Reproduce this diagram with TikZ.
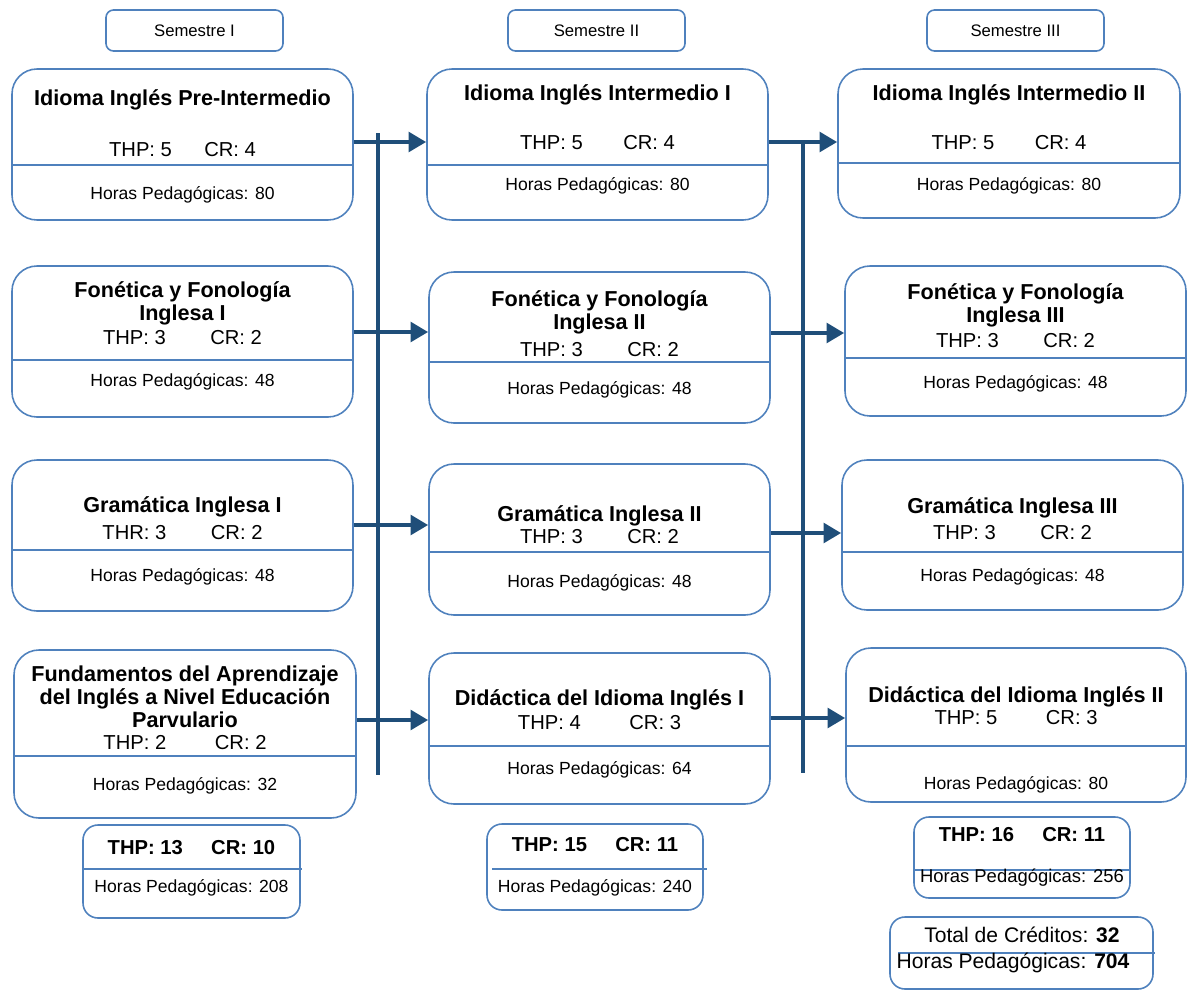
\documentclass[tikz,border=0pt]{standalone}
\usepackage{fontspec}
\setmainfont{Liberation Sans}
\usetikzlibrary{arrows.meta, fit}

\definecolor{boxblue}{RGB}{79,129,189}
\definecolor{flowblue}{RGB}{31,78,121}

\tikzset{
  course/.style={draw=boxblue, line width=0.9pt, rounded corners=0.5cm, inner sep=0pt},
  header/.style={draw=boxblue, line width=0.9pt, rounded corners=0.15cm, inner sep=0pt},
  headtext/.style={font=\fontsize{9.5}{11}\selectfont, inner sep=0pt},
  summary/.style={draw=boxblue, line width=0.9pt, rounded corners=0.3cm, inner sep=0pt},
  divider/.style={draw=boxblue, line width=0.8pt},
  title/.style={font=\fontsize{12.3}{13}\selectfont\bfseries, align=center, inner sep=0pt},
  sumtitle/.style={font=\fontsize{11.5}{13}\selectfont\bfseries, inner sep=0pt},
  credits/.style={font=\fontsize{11.5}{13}\selectfont, inner sep=0pt},
  hours/.style={font=\fontsize{10}{12}\selectfont, inner sep=0pt},
  flow/.style={draw=flowblue, line width=2.8pt, -{Triangle[length=10pt,width=11pt]}},
  bus/.style={draw=flowblue, line width=2.8pt},
}

\begin{document}
\begin{tikzpicture}[x=0.02cm, y=-0.02cm]
\useasboundingbox (0,0) rectangle (1188,991);

% semester headers
\node[header, fit={(106,10) (283,51)}] (sem1) {};
\node[headtext] (sem1t) at (194.5,30.5) {Semestre I};
\node[header, fit={(508,10) (685,51)}] (sem2) {};
\node[headtext] (sem2t) at (596.5,30.5) {Semestre II};
\node[header, fit={(927,10) (1104,51)}] (sem3) {};
\node[headtext] (sem3t) at (1015.5,30.5) {Semestre III};

% Idioma Ingles
\node[course, fit={(12,69) (353,220)}] (idi1) {};
\node[title] (idi1t) at (182.5,100) {Idioma Inglés Pre-Intermedio};
\node[credits] (idi1c) at (182.5,150) {THP: 5\hspace{1.6em}CR: 4};
\draw[divider] (idi1.west |- 0,165) -- (idi1.east |- 0,165);
\node[hours] (idi1h) at (182.5,195) {Horas Pedagógicas: 80};

\node[course, fit={(427,69) (768,220)}] (idi2) {};
\node[title] (idi2t) at (597.5,95) {Idioma Inglés Intermedio I};
\node[credits] (idi2c) at (597.5,143) {THP: 5\hspace{2em}CR: 4};
\draw[divider] (idi2.west |- 0,165) -- (idi2.east |- 0,165);
\node[hours] (idi2h) at (597.5,186) {Horas Pedagógicas: 80};

\node[course, fit={(838,69) (1180,218)}] (idi3) {};
\node[title] (idi3t) at (1009,95) {Idioma Inglés Intermedio II};
\node[credits] (idi3c) at (1009,143) {THP: 5\hspace{2em}CR: 4};
\draw[divider] (idi3.west |- 0,163) -- (idi3.east |- 0,163);
\node[hours] (idi3h) at (1009,186) {Horas Pedagógicas: 80};

% Fonetica y Fonologia
\node[course, fit={(12,266) (353,417)}] (fon1) {};
\node[title] (fon1t) at (182.5,303) {Fonética y Fonología\\Inglesa I};
\node[credits] (fon1c) at (182.5,338) {THP: 3\hspace{2.2em}CR: 2};
\draw[divider] (fon1.west |- 0,360) -- (fon1.east |- 0,360);
\node[hours] (fon1h) at (182.5,382) {Horas Pedagógicas: 48};

\node[course, fit={(429,272) (770,423)}] (fon2) {};
\node[title] (fon2t) at (599.5,312) {Fonética y Fonología\\Inglesa II};
\node[credits] (fon2c) at (599.5,350) {THP: 3\hspace{2.2em}CR: 2};
\draw[divider] (fon2.west |- 0,362) -- (fon2.east |- 0,362);
\node[hours] (fon2h) at (599.5,390) {Horas Pedagógicas: 48};

\node[course, fit={(845,266) (1186,416)}] (fon3) {};
\node[title] (fon3t) at (1015.5,305) {Fonética y Fonología\\Inglesa III};
\node[credits] (fon3c) at (1015.5,341) {THP: 3\hspace{2.2em}CR: 2};
\draw[divider] (fon3.west |- 0,358) -- (fon3.east |- 0,358);
\node[hours] (fon3h) at (1015.5,384) {Horas Pedagógicas: 48};

% Gramatica
\node[course, fit={(12,460) (353,611)}] (gra1) {};
\node[title] (gra1t) at (182.5,507) {Gramática Inglesa I};
\node[credits] (gra1c) at (182.5,533) {THR: 3\hspace{2.2em}CR: 2};
\draw[divider] (gra1.west |- 0,550) -- (gra1.east |- 0,550);
\node[hours] (gra1h) at (182.5,577) {Horas Pedagógicas: 48};

\node[course, fit={(429,464) (770,615)}] (gra2) {};
\node[title] (gra2t) at (599.5,516) {Gramática Inglesa II};
\node[credits] (gra2c) at (599.5,537) {THP: 3\hspace{2.2em}CR: 2};
\draw[divider] (gra2.west |- 0,552) -- (gra2.east |- 0,552);
\node[hours] (gra2h) at (599.5,583) {Horas Pedagógicas: 48};

\node[course, fit={(842,460) (1183,610)}] (gra3) {};
\node[title] (gra3t) at (1012.5,508) {Gramática Inglesa III};
\node[credits] (gra3c) at (1012.5,533) {THP: 3\hspace{2.2em}CR: 2};
\draw[divider] (gra3.west |- 0,552) -- (gra3.east |- 0,552);
\node[hours] (gra3h) at (1012.5,577) {Horas Pedagógicas: 48};

% Fundamentos / Didactica
\node[course, fit={(14,650) (356,818)}] (fun1) {};
\node[title] (fun1t) at (185,697) {Fundamentos del Aprendizaje\\del Inglés a Nivel Educación\\Parvulario};
\node[credits] (fun1c) at (185,743) {THP: 2\hspace{2.4em}CR: 2};
\draw[divider] (fun1.west |- 0,756) -- (fun1.east |- 0,756);
\node[hours] (fun1h) at (185,786) {Horas Pedagógicas: 32};

\node[course, fit={(429,653) (770,804)}] (did2) {};
\node[title] (did2t) at (599.5,700) {Didáctica del Idioma Inglés I};
\node[credits] (did2c) at (599.5,723) {THP: 4\hspace{2.4em}CR: 3};
\draw[divider] (did2.west |- 0,746) -- (did2.east |- 0,746);
\node[hours] (did2h) at (599.5,770) {Horas Pedagógicas: 64};

\node[course, fit={(846,648) (1186,802)}] (did3) {};
\node[title] (did3t) at (1016,697) {Didáctica del Idioma Inglés II};
\node[credits] (did3c) at (1016,718) {THP: 5\hspace{2.4em}CR: 3};
\draw[divider] (did3.west |- 0,746) -- (did3.east |- 0,746);
\node[hours] (did3h) at (1016,785) {Horas Pedagógicas: 80};

% semester totals
\node[summary, fit={(83,825) (300,918)}] (sum1) {};
\node[sumtitle] (sum1c) at (191.5,848) {THP: 13\hspace{1.4em}CR: 10};
\draw[divider] (83,869) -- (302,869);
\node[hours] (sum1h) at (191.5,888) {Horas Pedagógicas: 208};

\node[summary, fit={(487,824) (703,910)}] (sum2) {};
\node[sumtitle] (sum2c) at (595,845) {THP: 15\hspace{1.4em}CR: 11};
\draw[divider] (492,869) -- (707,869);
\node[hours] (sum2h) at (595,888) {Horas Pedagógicas: 240};

\node[summary, fit={(914,817) (1130,898)}] (sum3) {};
\node[sumtitle] (sum3c) at (1022,835) {THP: 16\hspace{1.4em}CR: 11};
\draw[divider] (sum3.west |- 0,870) -- (sum3.east |- 0,870);
\node[hours, font=\fontsize{10.5}{12}\selectfont] (sum3h) at (1022,878) {Horas Pedagógicas: 256};

\node[summary, fit={(890,917) (1153,989)}] (total) {};
\node[credits, font=\fontsize{12}{14}\selectfont] (totalc) at (1022,935) {Total de Créditos: \textbf{32}};
\draw[divider] (898,953) -- (1155,953);
\node[credits, font=\fontsize{12}{14}\selectfont] (totalh) at (1013,963) {Horas Pedagógicas: \textbf{704}};

% connectors
\coordinate (bus1top) at (378,133);
\coordinate (bus1bot) at (378,775);
\draw[bus] (bus1top) -- (bus1bot);
\draw[flow] (idi1.east |- 0,142) -- (idi2.west |- 0,142);
\draw[flow] (fon1.east |- 0,332) -- (fon2.west |- 0,332);
\draw[flow] (gra1.east |- 0,525) -- (gra2.west |- 0,525);
\draw[flow] (fun1.east |- 0,720) -- (did2.west |- 0,720);

\coordinate (bus2top) at (803,142);
\coordinate (bus2bot) at (803,773);
\draw[bus] (bus2top) -- (bus2bot);
\draw[flow] (idi2.east |- 0,142) -- (idi3.west |- 0,142);
\draw[flow] (fon2.east |- 0,333) -- (fon3.west |- 0,333);
\draw[flow] (gra2.east |- 0,533) -- (gra3.west |- 0,533);
\draw[flow] (did2.east |- 0,718) -- (did3.west |- 0,718);
\end{tikzpicture}
\end{document}
